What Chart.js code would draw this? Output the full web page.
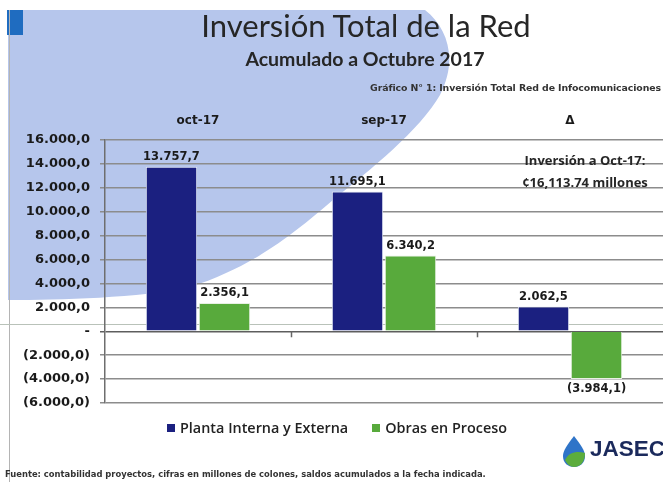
<!DOCTYPE html>
<html>
<head>
<meta charset="utf-8">
<script src="https://cdn.jsdelivr.net/npm/chart.js@4.4.0/dist/chart.umd.min.js"></script>
<style>
  body { margin: 0; background: #fff; }
  #wrap { position: relative; width: 663px; height: 482px; overflow: hidden; background: #fff; }
  #bg, #c { position: absolute; left: 0; top: 0; }
  .t { position: absolute; white-space: nowrap; color: #262626; }
  #title { left: 0; width: 732px; text-align: center; top: 6px; font: 400 31px Lato, sans-serif; }
  #sub { left: 0; width: 730px; text-align: center; top: 47px; font: 700 19.5px Lato, sans-serif; }
  #cap { right: 2px; top: 82px; font: 700 9.4px "DejaVu Sans", sans-serif; color: #333; letter-spacing: -0.1px; }
  #note1 { left: 520px; width: 130px; text-align: center; top: 151px; font: 700 13px "Open Sans", sans-serif; }
  #note2 { left: 500px; width: 170px; text-align: center; top: 173px; font: 700 13px "Open Sans", sans-serif; }
  #legend { left: 167px; top: 418px; font: 600 14.4px "Open Sans", sans-serif; color: #222; }
  #legend span.sw { display: inline-block; width: 8px; height: 8px; margin-right: 5px; vertical-align: 1px; }
  #src { left: 5px; top: 469px; font: 700 8.4px "DejaVu Sans", sans-serif; color: #333; }
  #jasec { left: 590px; top: 436px; font: 700 22.5px "Liberation Sans", Arial, sans-serif; color: #1b2a5c; }
</style>
</head>
<body>
<div id="wrap">
  <svg id="bg" width="663" height="482">
    <path fill="#b6c6ec" d="M8,10 L425,10 C448,28 458,60 440,95 C420,130 370,170 333,200 C290,237 250,268 190,287 C140,298 60,300 8,300 Z"/>
    <rect x="7" y="10" width="16" height="25" fill="#1f6cc0"/>
    <line x1="9.5" y1="10" x2="9.5" y2="482" stroke="#b4b4b4" stroke-width="1"/>
    <line x1="0" y1="324.5" x2="663" y2="324.5" stroke="#b9c2b9" stroke-width="1"/>
    <g transform="translate(563,436)">
      <path d="M11 0 C 4 9, 0 15, 0 20 C 0 27, 5 31, 11 31 C 17 31, 22 27, 22 20 C 22 15, 18 9, 11 0 Z" fill="#2f74c8"/>
      <path d="M2 24 C 6 16, 14 15, 22 17 C 22 26, 17 31, 11 31 C 7 31, 4 28, 2 24 Z" fill="#5cad3c"/>
    </g>
  </svg>
  <canvas id="c" width="663" height="482"></canvas>
  <div class="t" id="title">Inversión Total de la Red</div>
  <div class="t" id="sub">Acumulado a Octubre 2017</div>
  <div class="t" id="cap">Gráfico N° 1: Inversión Total Red de Infocomunicaciones</div>
  <div class="t" id="note1">Inversión a Oct-17:</div>
  <div class="t" id="note2">¢16,113.74 millones</div>
  <div class="t" id="legend"><span class="sw" style="background:#1b2080"></span>Planta Interna y Externa<span style="display:inline-block;width:24px"></span><span class="sw" style="background:#58aa3c"></span>Obras en Proceso</div>
  <div class="t" id="jasec">JASEC</div>
  <div class="t" id="src">Fuente: contabilidad proyectos, cifras en millones de colones, saldos acumulados a la fecha indicada.</div>
</div>
<script>
var categories = ['oct-17', 'sep-17', 'Δ'];
var plantaValues = [13757.7, 11695.1, 2062.5];
var obrasValues = [2356.1, 6340.2, -3984.1];
var seriesNames = ['Planta Interna y Externa', 'Obras en Proceso'];

function fmtNum(v) {
    var neg = v < 0;
    var s = Math.abs(v).toFixed(1).split('.');
    var ent = s[0].replace(/\B(?=(\d{3})+(?!\d))/g, '.');
    var txt = ent + ',' + s[1];
    return neg ? '(' + txt + ')' : txt;
}

// etiquetas de valor sobre/bajo cada barra
var valueLabels = {
    id: 'valueLabels',
    afterDatasetsDraw: function(chart) {
        var ctx = chart.ctx;
        ctx.save();
        ctx.font = 'bold 11.5px "DejaVu Sans"';
        ctx.fillStyle = '#1a1a1a';
        ctx.textAlign = 'center';
        chart.data.datasets.forEach(function(ds, i) {
            chart.getDatasetMeta(i).data.forEach(function(bar, j) {
                var v = ds.data[j];
                if (v >= 0) {
                    ctx.textBaseline = 'bottom';
                    ctx.fillText(fmtNum(v), bar.x, bar.y - 4);
                } else {
                    ctx.textBaseline = 'top';
                    ctx.fillText(fmtNum(v), bar.x, bar.y + 4);
                }
            });
        });
        // marcas en la linea de cero entre categorias
        var y0 = chart.scales.y.getPixelForValue(0);
        var w = (chart.chartArea.right - chart.chartArea.left) / categories.length;
        ctx.strokeStyle = '#666';
        ctx.lineWidth = 1.5;
        for (var k = 1; k < categories.length; k++) {
            var px = Math.round(chart.chartArea.left + k * w) + 0.5;
            ctx.beginPath();
            ctx.moveTo(px, y0);
            ctx.lineTo(px, y0 + 6);
            ctx.stroke();
        }
        ctx.restore();
    }
};

var ctx = document.getElementById('c').getContext('2d');
var chart = new Chart(ctx, {
    type: 'bar',
    data: {
        labels: categories,
        datasets: [{
            label: seriesNames[0],
            data: plantaValues,
            backgroundColor: '#1b2080',
            borderColor: '#e8ecf6',
            borderWidth: 1,
            categoryPercentage: 0.57,
            barPercentage: 0.97
        }, {
            label: seriesNames[1],
            data: obrasValues,
            backgroundColor: '#58aa3c',
            borderColor: '#e8f0e4',
            borderWidth: 1,
            categoryPercentage: 0.57,
            barPercentage: 0.97
        }]
    },
    options: {
        responsive: false,
        animation: false,
        layout: { padding: { left: 10, right: 0, top: 110, bottom: 79 } },
        plugins: {
            legend: { display: false },
            tooltip: { enabled: false }
        },
        scales: {
            x: {
                position: 'top',
                grid: { display: false, drawTicks: false },
                border: { display: false },
                ticks: {
                    color: '#1a1a1a',
                    font: { family: 'DejaVu Sans', weight: 'bold', size: 12 },
                    padding: 12
                },
                afterFit: function(scale) { scale.height = 30; }
            },
            y: {
                min: -6000,
                max: 16000,
                ticks: {
                    stepSize: 2000,
                    color: '#1a1a1a',
                    font: { family: 'DejaVu Sans', weight: 'bold', size: 13 },
                    padding: 10,
                    callback: function(v) { return v === 0 ? '-' : fmtNum(v); }
                },
                grid: {
                    color: function(c) { return c.tick && c.tick.value === 0 ? '#5e5e5e' : '#8c8c8c'; },
                    lineWidth: 1.5,
                    tickLength: 5
                },
                border: { color: '#6e6e6e', width: 1.5 },
                afterFit: function(scale) { scale.width = 95; }
            }
        }
    },
    plugins: [valueLabels]
});
</script>
</body>
</html>
